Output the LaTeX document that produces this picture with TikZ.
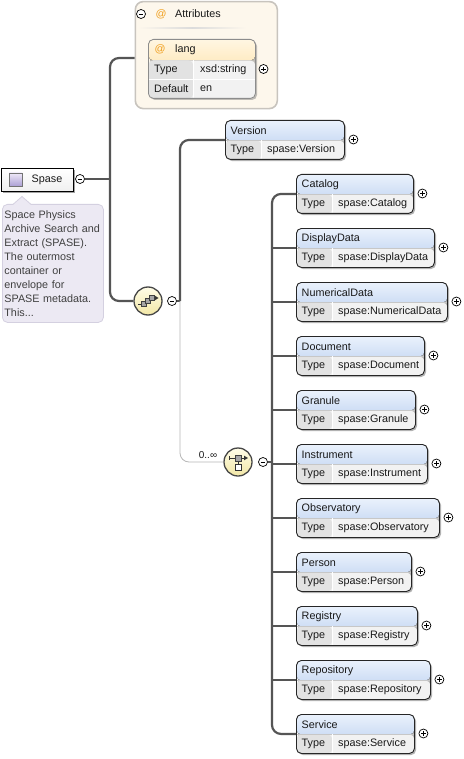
\documentclass[tikz,border=0pt]{standalone}
\usepackage{fontspec}
\setmainfont{Liberation Sans}
\usetikzlibrary{shadows,calc}
\definecolor{conn}{HTML}{555555}
\definecolor{hdtop}{HTML}{EAF1FC}
\definecolor{hdbot}{HTML}{B4CCEE}
\definecolor{rowbg}{HTML}{F2F2F2}
\definecolor{typebg}{HTML}{E2E2E2}
\definecolor{attfill}{HTML}{FDF7EC}
\definecolor{attdraw}{HTML}{C8C4BE}
\definecolor{ortop}{HTML}{FFF6E2}
\definecolor{orbot}{HTML}{FDD88E}
\definecolor{atsign}{HTML}{F0A020}
\definecolor{descfill}{HTML}{ECE9F3}
\definecolor{descdraw}{HTML}{D4D0E0}
\definecolor{icotop}{HTML}{FFFDE8}
\definecolor{icobot}{HTML}{F2E7A6}
\definecolor{lavtop}{HTML}{EEE8F8}
\definecolor{lavbot}{HTML}{ACA0D4}
\tikzset{
  every node/.style={font=\fontsize{10.8}{14}\selectfont},
  txt/.style={inner sep=0pt, text=black!90},
  conn/.style={draw=conn, line width=2.2pt, rounded corners=9pt},
  optconn/.style={draw=black!28, line width=0.8pt, rounded corners=9pt},
  elem/.style={draw=black!85, line width=0.9pt, rounded corners=5pt, minimum height=39pt, inner sep=0pt,
    drop shadow={shadow xshift=1.6pt, shadow yshift=-1.6pt, fill=black!55, opacity=.55},
    path picture={
      \fill[top color=hdtop, bottom color=hdbot] (path picture bounding box.north west) rectangle ([yshift=-20pt]path picture bounding box.north east);
      \fill[rowbg] ([yshift=-20pt]path picture bounding box.north west) rectangle (path picture bounding box.south east);
      \fill[typebg] ([yshift=-20pt]path picture bounding box.north west) rectangle ([xshift=36pt]path picture bounding box.south west);
      \draw[black!22, line width=.6pt] ([yshift=-20pt]path picture bounding box.north west) -- ([yshift=-20pt]path picture bounding box.north east);
      \draw[white, line width=1pt] ([xshift=36pt,yshift=-20pt]path picture bounding box.north west) -- ([xshift=36pt]path picture bounding box.south west);
    }},
  plus/.style={circle, draw=black, line width=0.7pt, fill=white, minimum size=9pt, inner sep=0pt,
    path picture={\draw[line width=.7pt] ([xshift=-2.3pt]path picture bounding box.center) -- ([xshift=2.3pt]path picture bounding box.center) ([yshift=-2.3pt]path picture bounding box.center) -- ([yshift=2.3pt]path picture bounding box.center);}},
  minus/.style={circle, draw=black, line width=0.7pt, fill=white, minimum size=9pt, inner sep=0pt,
    path picture={\draw[line width=.7pt] ([xshift=-2.3pt]path picture bounding box.center) -- ([xshift=2.3pt]path picture bounding box.center);}},
  icon/.style={circle, draw=black!72, line width=1.3pt, top color=icotop, bottom color=icobot, minimum size=28pt, inner sep=0pt},
  sq/.style={draw=black!75, line width=.6pt, fill=black!35},
}
\newcommand{\mkelem}[6]{%
  \node[elem, minimum width={(#4-#2)*1pt}, anchor=north west] (#1) at (#2,#3) {};
  \node[txt, anchor=west] (#1-l) at ([xshift=5.5pt,yshift=-10.5pt]#1.north west) {#5};
  \node[txt, anchor=west] (#1-t) at ([xshift=5.5pt,yshift=-29.5pt]#1.north west) {Type};
  \node[txt, anchor=west] (#1-v) at ([xshift=42pt,yshift=-29.5pt]#1.north west) {#6};
  \node[plus] (#1-p) at ([xshift=8.5pt,yshift=-19.5pt]#1.north east) {};
}
\begin{document}
\begin{tikzpicture}[x=1pt, y=-1pt]
\useasboundingbox[fill=white] (0,0) rectangle (463,759);

% ---- Attributes container ----
\node[draw=attdraw, line width=1.6pt, fill=attfill, rounded corners=8pt, minimum width=142pt, minimum height=107pt, inner sep=0pt, anchor=north west] (attr) at (134.5,0.8) {};
\node[minus] (attr-m) at (141,14) {};
\node[txt, text=atsign] (attr-at) at (161,14) {@};
\node[txt, anchor=west] (attr-l) at (175,14) {Attributes};
\shade[left color=attfill, right color=attfill, middle color=black!14] (138,27.3) rectangle (246,28.8);

% ---- lang attribute ----
\node[draw=black!45, line width=0.8pt, rounded corners=5pt, minimum width=107pt, minimum height=59pt, inner sep=0pt, anchor=north west,
  drop shadow={shadow xshift=1.6pt, shadow yshift=-1.6pt, fill=black!50, opacity=.5},
  path picture={
    \fill[top color=ortop, bottom color=orbot] (path picture bounding box.north west) rectangle ([yshift=-21pt]path picture bounding box.north east);
    \fill[rowbg] ([yshift=-21pt]path picture bounding box.north west) rectangle (path picture bounding box.south east);
    \fill[typebg] ([yshift=-21pt]path picture bounding box.north west) rectangle ([xshift=45pt]path picture bounding box.south west);
    \draw[white, line width=1pt] ([xshift=45pt,yshift=-21pt]path picture bounding box.north west) -- ([xshift=45pt]path picture bounding box.south west);
    \draw[white, line width=1pt] ([yshift=-40.5pt]path picture bounding box.north west) -- ([yshift=-40.5pt]path picture bounding box.north east);
  }] (lang) at (148,39) {};
\node[txt, text=atsign] (lang-at) at (160,49.5) {@};
\node[txt, anchor=west] (lang-l) at (175,49.5) {lang};
\node[txt, anchor=west] (lang-t) at (154,69.5) {Type};
\node[txt, anchor=west] (lang-v) at (200,69.5) {xsd:string};
\node[txt, anchor=west] (lang-dt) at (154,89) {Default};
\node[txt, anchor=west] (lang-dv) at (200,89) {en};
\node[plus] (lang-p) at (263.5,69) {};

% ---- Spase root ----
\node[draw=black, line width=1.3pt, top color=white, bottom color=black!6, minimum width=72pt, minimum height=23pt, inner sep=0pt, anchor=north west,
  drop shadow={shadow xshift=1.6pt, shadow yshift=-1.6pt, fill=black!60, opacity=.6}] (spase) at (1,168) {};
\node[draw=black!55, line width=.6pt, top color=lavtop, bottom color=lavbot, minimum size=13pt, inner sep=0pt] (spase-ic) at (15.5,179.5) {};
\node[txt] (spase-l) at (47,179.5) {Spase};
\node[minus] (spase-m) at (80,179) {};

% ---- description ----
\node[draw=descdraw, line width=.8pt, fill=descfill, rounded corners=5pt, minimum width=101pt, minimum height=118pt, anchor=north west,
  text width=97pt, inner xsep=2pt, inner ysep=2pt, align=left, text=black!75] (desc) at (2,204)
  {Space Physics\\Archive Search and\\Extract (SPASE).\\The outermost\\container or\\envelope for\\SPASE metadata.\\This...};
\fill[descfill] (13,204.8) -- (22,196.5) -- (31,204.8) -- cycle;
\draw[descdraw, line width=.8pt] (13,204.4) -- (22,196.5) -- (31,204.4);

% ---- sequence ----
\node[icon] (seq) at (148,301) {};
\draw[black!80, line width=.8pt] ($(seq.center)+(-10pt,-3pt)$) -- ($(seq.center)+(-6pt,-3pt)$);
\draw[black!80, line width=.8pt] ($(seq.center)+(-4pt,-3pt)$) -- ($(seq.center)+(4pt,3pt)$) -- ($(seq.center)+(7pt,3pt)$);
\fill[black!80] ($(seq.center)+(10.5pt,3pt)$) -- ($(seq.center)+(7pt,5.2pt)$) -- ($(seq.center)+(7pt,0.8pt)$) -- cycle;
\node[sq, minimum size=5.5pt, inner sep=0pt] (seq-a) at ($(seq.center)+(-4pt,-3pt)$) {};
\node[sq, minimum size=5.5pt, inner sep=0pt] (seq-b) at ($(seq.center)+(0pt,0pt)$) {};
\node[sq, minimum size=5.5pt, inner sep=0pt] (seq-c) at ($(seq.center)+(4pt,3pt)$) {};
\node[minus] (seq-m) at (172,301) {};

% ---- choice ----
\node[icon] (cho) at (238,462) {};
\draw[black!80, line width=.8pt] ($(cho.center)+(-9pt,4pt)$) -- ($(cho.center)+(6pt,4pt)$);
\draw[black!80, line width=.8pt] ($(cho.center)+(-9pt,6pt)$) -- ($(cho.center)+(-9pt,2pt)$);
\fill[black!80] ($(cho.center)+(10pt,4pt)$) -- ($(cho.center)+(6pt,6.3pt)$) -- ($(cho.center)+(6pt,1.7pt)$) -- cycle;
\draw[black!80, line width=.8pt] ($(cho.center)+(0pt,4pt)$) -- ($(cho.center)+(0pt,-4pt)$);
\node[sq, minimum size=6pt, inner sep=0pt] (cho-a) at ($(cho.center)+(0pt,4pt)$) {};
\node[draw=black!80, line width=.7pt, fill=white, minimum size=6pt, inner sep=0pt] (cho-b) at ($(cho.center)+(0pt,-5pt)$) {};
\node[minus] (cho-m) at (263,462) {};
\node[txt, font=\fontsize{10}{12}\selectfont] (card) at (208,455.5) {0..∞};

% ---- elements ----
\mkelem{ver}{225}{120}{344}{Version}{spase:Version}
\mkelem{cat}{296}{174}{413}{Catalog}{spase:Catalog}
\mkelem{dd}{296}{228}{434}{DisplayData}{spase:DisplayData}
\mkelem{nd}{296}{282}{447}{NumericalData}{spase:NumericalData}
\mkelem{doc}{296}{336}{424}{Document}{spase:Document}
\mkelem{gra}{296}{390}{415}{Granule}{spase:Granule}
\mkelem{ins}{296}{444}{427}{Instrument}{spase:Instrument}
\mkelem{obs}{296}{498}{439}{Observatory}{spase:Observatory}
\mkelem{per}{296}{552}{411}{Person}{spase:Person}
\mkelem{reg}{296}{606}{417}{Registry}{spase:Registry}
\mkelem{rep}{296}{660}{430}{Repository}{spase:Repository}
\mkelem{svc}{296}{714}{414}{Service}{spase:Service}

% ---- connectors ----
\coordinate (j1) at (110,179);
\coordinate (attin) at (134.5,58);
\coordinate (j2) at (180,301);
\coordinate (j3) at (272,462);
\draw[conn] (spase-m.east) -- (j1);
\draw[conn] (attin) -| (j1) |- (seq.west);
\draw[conn] (seq-m.east) -- (j2);
\draw[conn] (ver.west) -| (j2);
\draw[optconn] (j2) |- (cho.west);
\draw[conn] (cho-m.east) -- (j3);
\draw[conn] (cat.west) -| (j3) |- (svc.west);
\foreach \n in {dd,nd,doc,gra,ins,obs,per,reg,rep}
  \draw[conn, rounded corners=0pt] (j3 |- \n.west) -- (\n.west);
\end{tikzpicture}
\end{document}
